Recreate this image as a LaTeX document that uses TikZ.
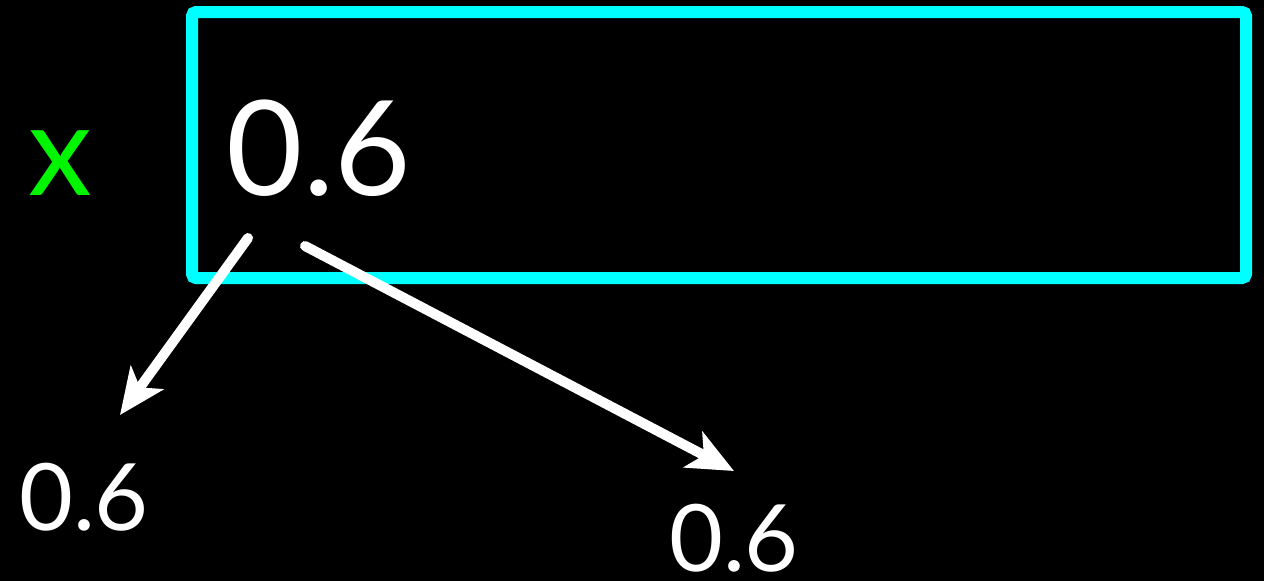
\documentclass[tikz,border=0pt]{standalone}
\usepackage{fontspec}
\setmainfont{Lato}
\usetikzlibrary{arrows.meta}

\definecolor{boxcyan}{RGB}{0,255,255}
\definecolor{namegreen}{RGB}{0,245,0}

\tikzset{
  valbox/.style={draw=boxcyan, line width=12pt, rounded corners=4pt},
  bigval/.style={inner sep=0pt, anchor=base, white, font=\fontsize{132}{140}\selectfont},
  smallval/.style={inner sep=0pt, anchor=base, white, font=\fontsize{93}{100}\selectfont},
  varname/.style={inner sep=0pt, anchor=base, namegreen, font=\fontsize{128}{136}\selectfont},
  copyarrow/.style={-{Stealth[length=46pt, width=40pt, inset=12pt]}, white, line width=10pt, line cap=round}
}

\begin{document}
\begin{tikzpicture}[x=1pt, y=-1pt, >=Stealth]

  % =========== 背景 ===========
  \fill[black] (0,0) rectangle (1264,581);
  \useasboundingbox (0,0) rectangle (1264,581);

  % =========== 变量 x 及其存储格 ===========
  \draw[valbox] (192,12) rectangle (1246,278);
  \node[varname] (xname) at (60,195) {x};
  \node[bigval] (xval) at (319,195) {0.6};

  % =========== 复制出的两个值 ===========
  \node[smallval] (copyleft) at (84,530) {0.6};
  \node[smallval] (copyright) at (734,571) {0.6};

  % 箭头起止点
  \coordinate (leftfrom) at (248,238);
  \coordinate (leftto) at (120,415);
  \coordinate (rightfrom) at (305,246);
  \coordinate (rightto) at (734,471);

  \draw[copyarrow] (leftfrom) -- (leftto);
  \draw[copyarrow] (rightfrom) -- (rightto);

\end{tikzpicture}
\end{document}
